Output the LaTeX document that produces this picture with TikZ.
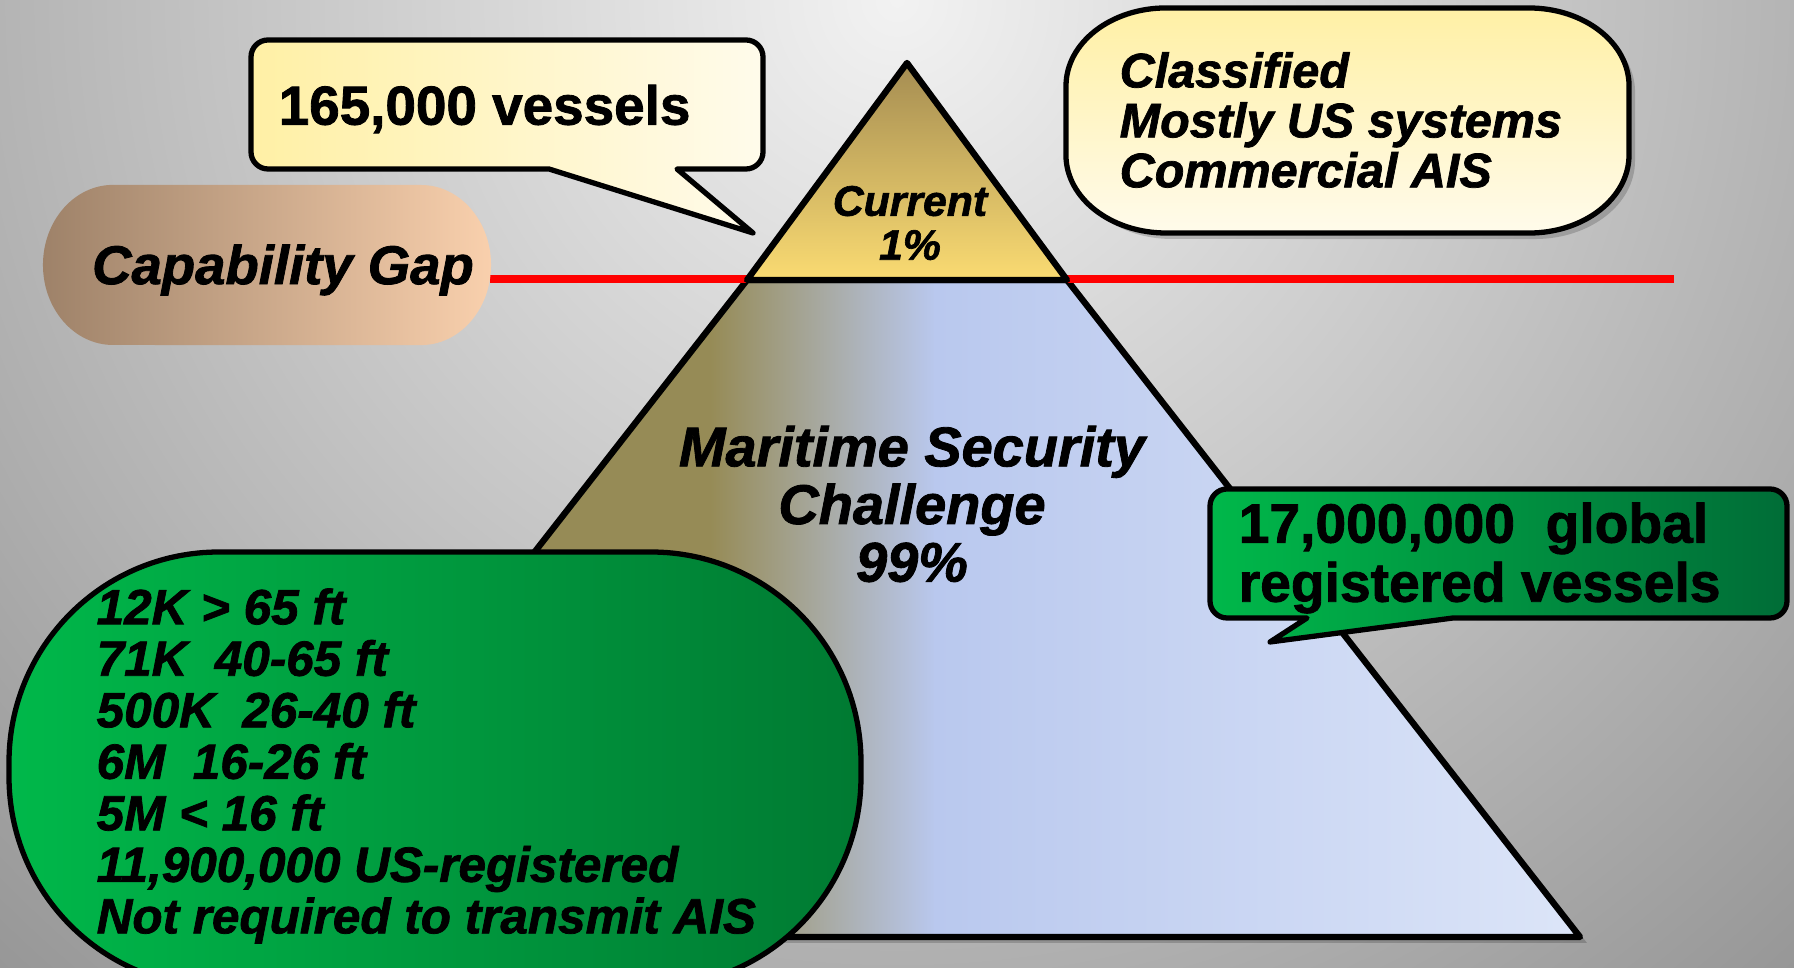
\documentclass[tikz,border=0pt]{standalone}
\usepackage{fontspec}
\setmainfont{Liberation Sans}[BoldFeatures={FakeBold=1.5}, BoldItalicFeatures={FakeBold=1.5}]

\definecolor{bginner}{HTML}{F2F2F2}
\definecolor{bgouter}{HTML}{979797}
\definecolor{topdark}{HTML}{A58D52}
\definecolor{toplight}{HTML}{FADB72}
\definecolor{olive}{HTML}{968B56}
\definecolor{skyblue}{HTML}{B9C8EE}
\definecolor{paleblue}{HTML}{DCE5F8}
\definecolor{gapleft}{HTML}{9E8269}
\definecolor{gapright}{HTML}{F9D0AD}
\definecolor{noteleft}{HTML}{FFF0A5}
\definecolor{noteright}{HTML}{FFFBEB}
\definecolor{greenleft}{HTML}{00B84A}
\definecolor{greenright}{HTML}{007A32}

\begin{document}
\begin{tikzpicture}[x=0.01cm, y=-0.01cm,
    outline/.style={draw=black, line width=1.5pt, line join=round},
    shadow/.style={fill=black, opacity=0.18},
    txt/.style={inner sep=0pt, text=black},
    bigtxt/.style={txt, font=\bfseries\itshape\fontsize{15.9}{16.4}\selectfont, align=center},
    listtxt/.style={txt, font=\bfseries\itshape\fontsize{14.06}{14.65}\selectfont, align=left}]
    % Hintergrund
    \useasboundingbox (0,0) rectangle (1794,968);
    \clip (0,0) rectangle (1794,968);
    \shade[inner color=bginner, outer color=bgouter] (897,0) circle (1320);

    % Pyramide
    \fill[shadow, shift={(7,6)}] (234,937) -- (747,280) -- (907,63) -- (1067,280) -- (1580,937) -- cycle;
    \begin{scope}
        \clip (234,937) -- (747,280) -- (1067,280) -- (1580,937) -- cycle;
        \fill[olive] (234,280) rectangle (712,937);
        \shade[left color=olive, right color=skyblue] (710,280) rectangle (936,937);
        \shade[left color=skyblue, right color=paleblue] (934,280) rectangle (1580,937);
    \end{scope}
    \draw[outline, line width=1.8pt] (234,937) -- (747,280) -- (1067,280) -- (1580,937) -- cycle;

    % rote Linie
    \coordinate (gapL) at (490,279);
    \coordinate (gapR) at (1674,279);
    \draw[red, line width=2.2pt] (gapL) -- (gapR);

    \shade[outline, line width=1.8pt, top color=topdark, bottom color=toplight]
        (907,63) -- (1067,280) -- (747,280) -- cycle;

    % Capability Gap
    \shade[left color=gapleft, right color=gapright] (113,185) -- (421,185)
        arc[start angle=90, end angle=-90, x radius=0.7cm, y radius=0.8cm] -- (113,345)
        arc[start angle=270, end angle=90, x radius=0.7cm, y radius=0.8cm] -- cycle;

    % Sprechblase oben links
    \shade[outline, left color=noteleft, right color=noteright]
        (549,169) [rounded corners=0.17cm] -- (251,169) -- (251,40) -- (763,40) -- (763,169)
        [sharp corners] -- (677,169) -- (753,233) -- cycle;

    % Kasten oben rechts
    \fill[shadow, shift={(6,6)}] (1166,8) -- (1529,8)
        arc[start angle=90, end angle=0, x radius=1cm, y radius=0.78cm] -- (1629,155)
        arc[start angle=0, end angle=-90, x radius=1cm, y radius=0.78cm] -- (1166,233)
        arc[start angle=270, end angle=180, x radius=1cm, y radius=0.78cm] -- (1066,86)
        arc[start angle=180, end angle=90, x radius=1cm, y radius=0.78cm] -- cycle;
    \shade[outline, top color=noteleft, bottom color=noteright] (1166,8) -- (1529,8)
        arc[start angle=90, end angle=0, x radius=1cm, y radius=0.78cm] -- (1629,155)
        arc[start angle=0, end angle=-90, x radius=1cm, y radius=0.78cm] -- (1166,233)
        arc[start angle=270, end angle=180, x radius=1cm, y radius=0.78cm] -- (1066,86)
        arc[start angle=180, end angle=90, x radius=1cm, y radius=0.78cm] -- cycle;

    % gruene Flaechen
    \shade[outline, left color=greenleft, right color=greenright, rounded corners=2.1cm]
        (9,552) rectangle (861,987);
    \shade[outline, left color=greenleft, right color=greenright!110!green]
        (1307,618) [rounded corners=0.17cm] -- (1210,618) -- (1210,489) -- (1787,489) -- (1787,618)
        [sharp corners] -- (1453,618) -- (1270,642) -- cycle;

    % Texte
    \node[txt, anchor=west, font=\bfseries\fontsize{15.6}{18}\selectfont] (vessels) at (278,109) {165,000 vessels};
    \node[txt, anchor=west, align=left, font=\bfseries\itshape\fontsize{13.8}{14.2}\selectfont] (classified) at (1119,120)
        {Classified\\Mostly US systems\\Commercial AIS};
    \node[txt, font=\bfseries\itshape\fontsize{15.5}{18}\selectfont] (gap) at (283,270) {Capability Gap};
    \node[txt, align=center, font=\bfseries\itshape\fontsize{12.15}{12.5}\selectfont] (current) at (910,223) {Current\\1\%};
    \node[bigtxt] (challenge) at (912,504) {Maritime Security\\Challenge\\99\%};
    \node[listtxt, anchor=west] (fleet) at (96,766)
        {12K > 65 ft\\71K~~40-65 ft\\500K~~26-40 ft\\6M~~16-26 ft\\5M < 16 ft\\11,900,000 US-registered\\Not required to transmit AIS};
    \node[txt, anchor=west, align=left, font=\bfseries\fontsize{15.7}{16.8}\selectfont] (global) at (1238,558)
        {17,000,000~~global\\registered vessels};
\end{tikzpicture}
\end{document}
